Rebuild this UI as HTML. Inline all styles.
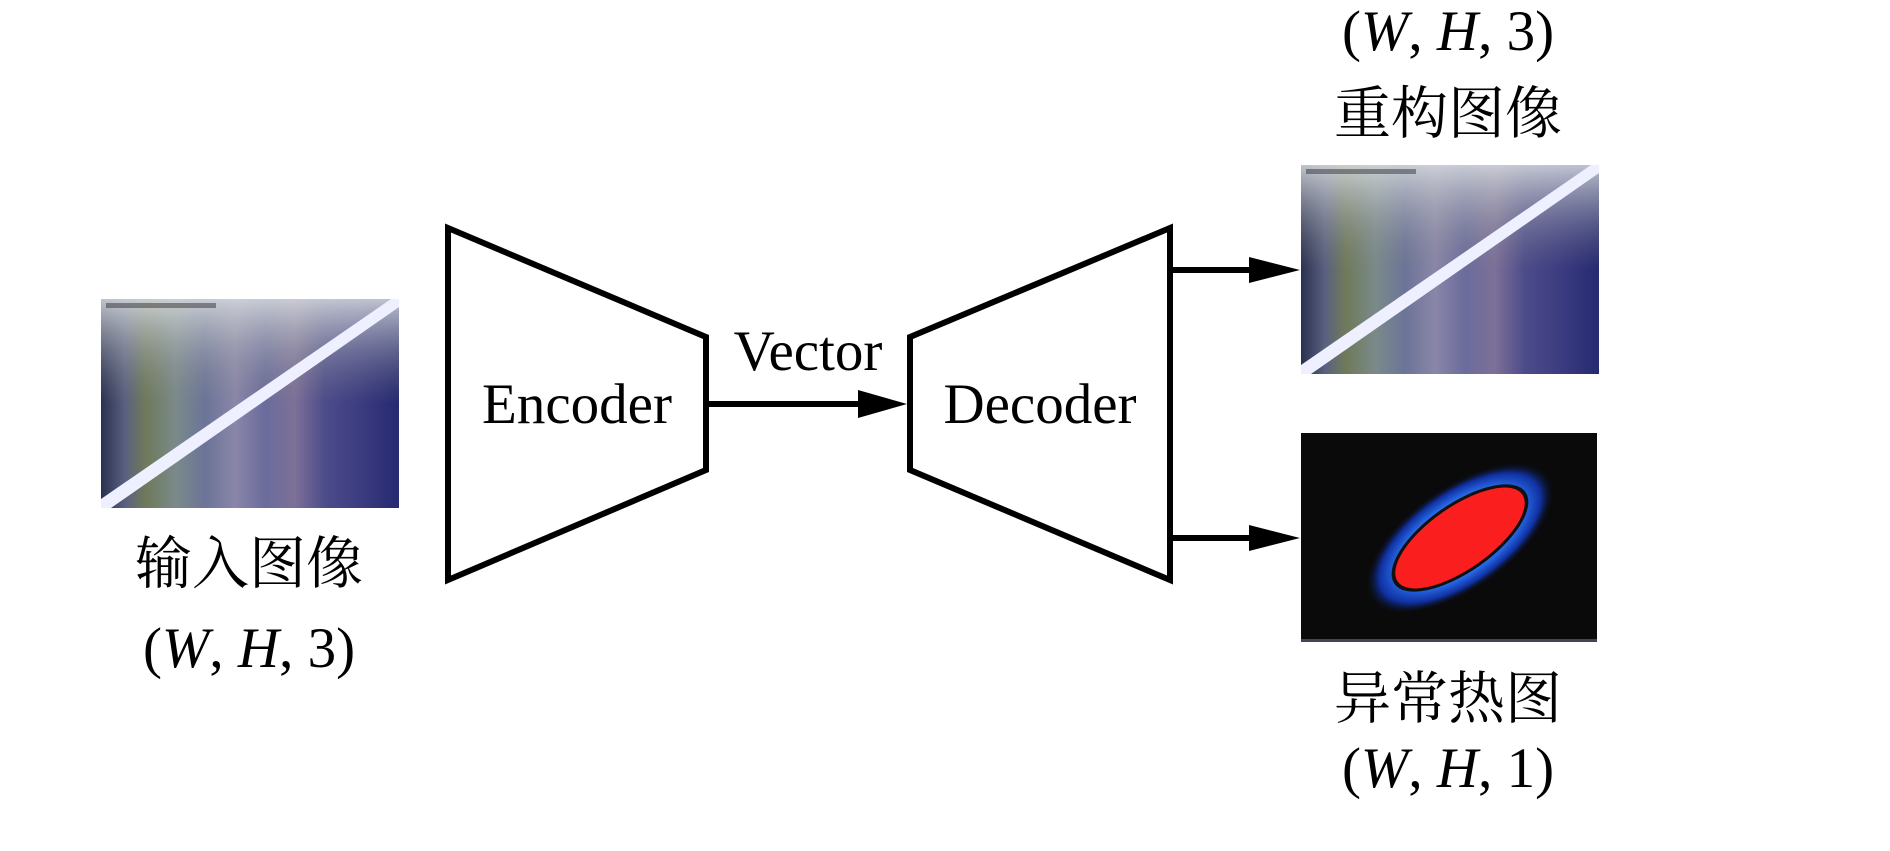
<!DOCTYPE html>
<html><head><meta charset="utf-8"><style>
html,body{margin:0;padding:0;background:#fff;}
body{width:1890px;height:846px;overflow:hidden;}
text{font-family:"Liberation Serif","Noto Serif CJK SC",serif;fill:#000;}
</style></head><body>
<svg width="1890" height="846" viewBox="0 0 1890 846" xmlns="http://www.w3.org/2000/svg">
<defs>
<linearGradient id="stripes" x1="0" y1="0" x2="1" y2="0">
<stop offset="0" stop-color="#2a3050"/>
<stop offset="0.08" stop-color="#5a6080"/>
<stop offset="0.15" stop-color="#6f7a5a"/>
<stop offset="0.25" stop-color="#7a8a8a"/>
<stop offset="0.35" stop-color="#6c7498"/>
<stop offset="0.45" stop-color="#8a86a8"/>
<stop offset="0.55" stop-color="#6a6c9c"/>
<stop offset="0.65" stop-color="#7d7098"/>
<stop offset="0.75" stop-color="#4d4c8a"/>
<stop offset="0.88" stop-color="#3a3a80"/>
<stop offset="1" stop-color="#262a70"/>
</linearGradient>
<linearGradient id="topfade" x1="0" y1="0" x2="0" y2="1">
<stop offset="0" stop-color="#d8dce0" stop-opacity="0.85"/>
<stop offset="0.25" stop-color="#b0b4b8" stop-opacity="0.4"/>
<stop offset="0.5" stop-color="#888" stop-opacity="0"/>
</linearGradient>
<radialGradient id="halo" cx="0.5" cy="0.5" r="0.5">
<stop offset="0.55" stop-color="#30d8c8"/>
<stop offset="0.65" stop-color="#2a70f0"/>
<stop offset="0.85" stop-color="#1030a0"/>
<stop offset="1" stop-color="#0a0a0a" stop-opacity="0"/>
</radialGradient>
<g id="photo">
<rect x="0" y="0" width="298" height="209" fill="url(#stripes)"/>
<rect x="0" y="0" width="298" height="209" fill="url(#topfade)"/>
<polygon points="0,200 0,209 10,209 298,8 298,0 290,0" fill="#eef0ff"/>
<rect x="5" y="4" width="110" height="5" fill="#333" opacity="0.5"/>
</g>
</defs>

<!-- input image -->
<use href="#photo" x="101" y="299"/>
<!-- recon image -->
<use href="#photo" x="1301" y="165"/>
<!-- heatmap -->
<rect x="1301" y="433" width="296" height="209" fill="#0a0a0a"/>
<rect x="1301" y="639" width="296" height="3" fill="#445"/>
<g transform="translate(1460,538) rotate(-35)">
<ellipse cx="0" cy="0" rx="110" ry="52" fill="url(#halo)"/>
<ellipse cx="0" cy="0" rx="80" ry="34" fill="#111"/>
<ellipse cx="0" cy="0" rx="76" ry="31" fill="#fa1e1e"/>
</g>

<!-- encoder -->
<polygon points="448,228 706,337 706,470 448,580" fill="#fff" stroke="#000" stroke-width="6" stroke-linejoin="miter"/>
<!-- decoder -->
<polygon points="910,337 1170,228 1170,580 910,470" fill="#fff" stroke="#000" stroke-width="6"/>

<!-- arrows -->
<line x1="706" y1="404" x2="862" y2="404" stroke="#000" stroke-width="6"/>
<polygon points="858,390 907,404 858,418" fill="#000"/>
<line x1="1170" y1="270" x2="1255" y2="270" stroke="#000" stroke-width="6"/>
<polygon points="1249,257 1300,270 1249,283" fill="#000"/>
<line x1="1170" y1="538" x2="1255" y2="538" stroke="#000" stroke-width="6"/>
<polygon points="1249,525 1300,538 1249,551" fill="#000"/>

<!-- labels -->
<text x="577" y="423" font-size="57" text-anchor="middle">Encoder</text>
<text x="1040" y="423" font-size="57" text-anchor="middle">Decoder</text>
<text x="808" y="370" font-size="57" text-anchor="middle">Vector</text>

<text x="249" y="583" font-size="57" text-anchor="middle">输入图像</text>
<text x="249" y="667" font-size="57" text-anchor="middle">(<tspan font-style="italic">W</tspan>, <tspan font-style="italic">H</tspan>, 3)</text>

<text x="1448" y="50" font-size="57" text-anchor="middle">(<tspan font-style="italic">W</tspan>, <tspan font-style="italic">H</tspan>, 3)</text>
<text x="1448" y="133" font-size="57" text-anchor="middle">重构图像</text>

<text x="1448" y="718" font-size="57" text-anchor="middle">异常热图</text>
<text x="1448" y="787" font-size="57" text-anchor="middle">(<tspan font-style="italic">W</tspan>, <tspan font-style="italic">H</tspan>, 1)</text>
</svg>
</body></html>
